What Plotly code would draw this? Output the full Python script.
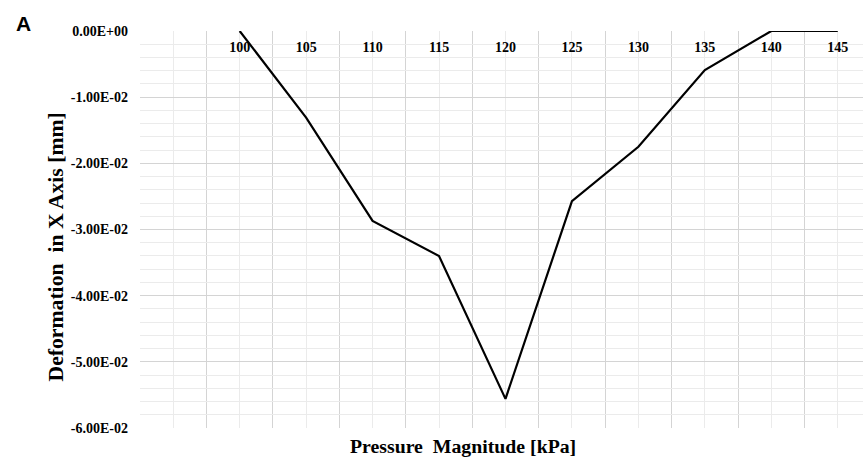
import plotly.graph_objects as go

pressure = [100, 105, 110, 115, 120, 125, 130, 135, 140, 145]
deformation = [0.0, -0.0131, -0.0287, -0.0340, -0.0556, -0.0257, -0.0175, -0.0059, 0.0, 0.0]

x_tick_vals = [100, 105, 110, 115, 120, 125, 130, 135, 140, 145]
x_tick_text = ["100", "105", "110", "115", "120", "125", "130", "135", "140", "145"]
x_light_grid = [95, 100, 105, 110, 115, 120, 125, 130, 135, 140, 145]
x_major_grid = [92.5, 97.5, 102.5, 107.5, 112.5, 117.5, 122.5, 127.5, 132.5, 137.5, 142.5]
y_tick_vals = [0.0, -0.01, -0.02, -0.03, -0.04, -0.05, -0.06]
y_tick_text = ["0.00E+00", "-1.00E-02", "-2.00E-02", "-3.00E-02", "-4.00E-02", "-5.00E-02", "-6.00E-02"]

W, H = 863, 459
L, R, T, B = 140, 0, 31, 31
pw, ph = W - L - R, H - T - B
x_range = [92.5, 146.9]

def px(x):
    return (x - L) / pw

def py(y):
    return (H - B - y) / ph

serif = "Liberation Serif, Times New Roman, serif"
dark_grid = "#d4d4d4"
light_grid = "#ebebeb"

fig = go.Figure()
fig.add_trace(go.Scatter(x=pressure, y=deformation, mode="lines",
                         line=dict(color="black", width=2.2), showlegend=False,
                         cliponaxis=False))
# invisible trace carrying the label axis
fig.add_trace(go.Scatter(x=pressure, y=deformation, mode="lines", xaxis="x2",
                         line=dict(color="rgba(0,0,0,0)", width=0), showlegend=False,
                         hoverinfo="skip"))

fig.update_layout(
    width=W, height=H,
    margin=dict(l=L, r=R, t=T, b=B),
    paper_bgcolor="white", plot_bgcolor="white",
    xaxis=dict(
        range=x_range,
        tickmode="array", tickvals=x_light_grid, showticklabels=False,
        showgrid=True, gridcolor=light_grid, gridwidth=1,
        minor=dict(tickmode="array", tickvals=x_major_grid, showgrid=True,
                   gridcolor=dark_grid, gridwidth=1),
        showline=False, zeroline=False, ticks="",
    ),
    xaxis2=dict(
        range=x_range, overlaying="x", anchor="free", position=py(33), side="bottom",
        tickmode="array", tickvals=x_tick_vals, ticktext=x_tick_text,
        tickfont=dict(family=serif, size=14, color="black", weight="bold"),
        ticklabelstandoff=4,
        showgrid=False, showline=False, zeroline=False, ticks="",
    ),
    yaxis=dict(
        range=[-0.06, 0.0],
        tickmode="array", tickvals=y_tick_vals, ticktext=y_tick_text,
        tickfont=dict(family=serif, size=14, color="black", weight="bold"),
        ticklabelstandoff=11,
        showgrid=True, gridcolor=dark_grid, gridwidth=1,
        minor=dict(dtick=0.002, showgrid=True, gridcolor=light_grid, gridwidth=1),
        showline=False, zeroline=False, ticks="",
    ),
    annotations=[
        dict(text="<b>Pressure  Magnitude [kPa]</b>", xref="paper", yref="paper",
             x=px(463), y=py(446), xanchor="center", yanchor="middle",
             showarrow=False, font=dict(family=serif, size=19.8, color="black")),
        dict(text="<b>Deformation  in X Axis [mm]</b>", xref="paper", yref="paper",
             x=px(55.5), y=py(247), xanchor="center", yanchor="middle", textangle=-90,
             showarrow=False, font=dict(family=serif, size=21.7, color="black")),
        dict(text="<b>A</b>", xref="paper", yref="paper",
             x=px(23), y=py(24), xanchor="center", yanchor="middle",
             showarrow=False, font=dict(family="Liberation Sans, Arial, sans-serif", size=21, color="black")),
    ],
)

fig.write_html("out.html")
